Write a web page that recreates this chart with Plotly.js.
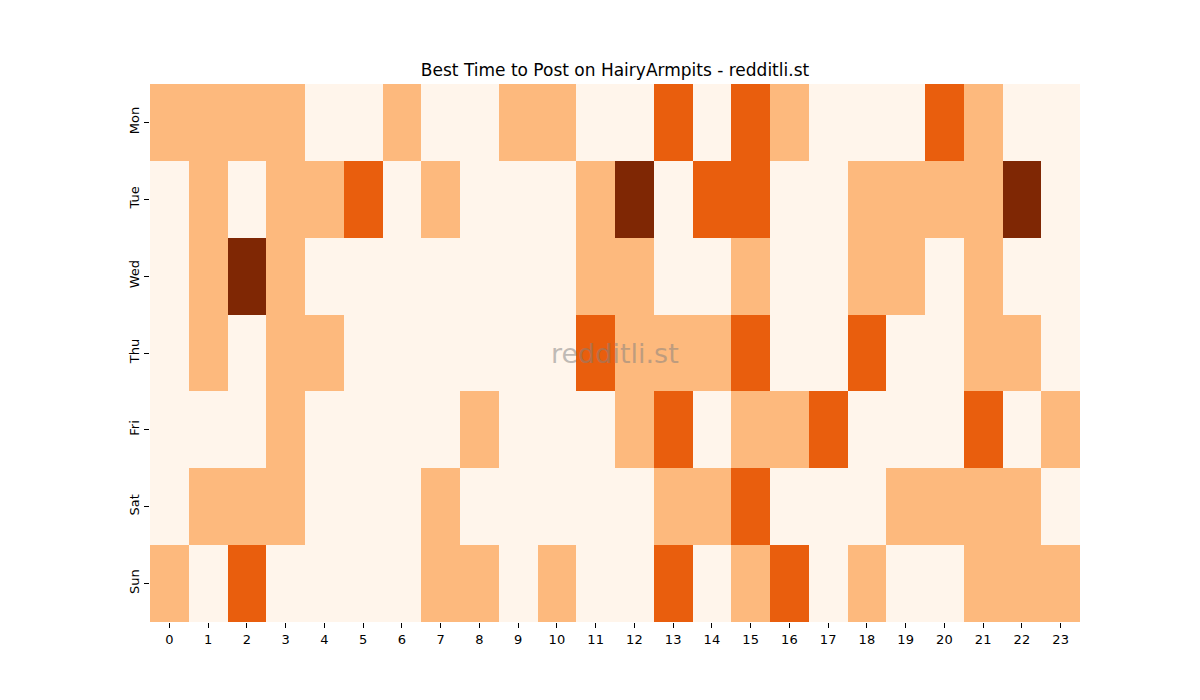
<!DOCTYPE html>
<html>
<head>
<meta charset="utf-8">
<script src="https://cdn.plot.ly/plotly-3.0.1.min.js"></script>
<style>
  html, body { margin: 0; padding: 0; background: #fff; }
  #chart { width: 1200px; height: 700px; }
</style>
</head>
<body>
<div id="chart"></div>
<script>
// hours along x, weekdays along y
const hours = [0,1,2,3,4,5,6,7,8,9,10,11,12,13,14,15,16,17,18,19,20,21,22,23];
const days  = ['Mon', 'Tue', 'Wed', 'Thu', 'Fri', 'Sat', 'Sun'];

// activity level per hour (0..3)
const mon = [1,1,1,1,0,0,1,0,0,1,1,0,0,2,0,2,1,0,0,0,2,1,0,0];
const tue = [0,1,0,1,1,2,0,1,0,0,0,1,3,0,2,2,0,0,1,1,1,1,3,0];
const wed = [0,1,3,1,0,0,0,0,0,0,0,1,1,0,0,1,0,0,1,1,0,1,0,0];
const thu = [0,1,0,1,1,0,0,0,0,0,0,2,1,1,1,2,0,0,2,0,0,1,1,0];
const fri = [0,0,0,1,0,0,0,0,1,0,0,0,1,2,0,1,1,2,0,0,0,2,0,1];
const sat = [0,1,1,1,0,0,0,1,0,0,0,0,0,1,1,2,0,0,0,1,1,1,1,0];
const sun = [1,0,2,0,0,0,0,1,1,0,1,0,0,2,0,1,2,0,1,0,0,1,1,1];

const levels = [mon, tue, wed, thu, fri, sat, sun];

// matplotlib "Oranges" sampled at 4 steps
const ORANGES = [
  [0,    '#fff5eb'],
  [0.17, '#fff5eb'],
  [0.17, '#fdb97d'],
  [0.5,  '#fdb97d'],
  [0.5,  '#e95e0d'],
  [0.83, '#e95e0d'],
  [0.83, '#7f2704'],
  [1,    '#7f2704'],
];

const trace = {
  type: 'heatmap',
  x: hours,
  y: days,
  z: levels,
  zmin: 0,
  zmax: 3,
  colorscale: ORANGES,
  showscale: false,
  hoverinfo: 'x+y+z',
};

const layout = {
  width: 1200,
  height: 700,
  paper_bgcolor: '#ffffff',
  plot_bgcolor: '#ffffff',
  font: { family: "'DejaVu Sans', sans-serif", color: '#000', size: 13 },
  margin: { t: 84, r: 120, b: 78, l: 150 },
  title: {
    text: 'Best Time to Post on HairyArmpits - redditli.st',
    font: { size: 17, color: '#000' },
    x: 0.5,
    xref: 'paper',
    y: 1 - 70 / 700,
    yanchor: 'middle',
  },
  xaxis: {
    type: 'linear',
    tickmode: 'array',
    tickvals: hours,
    ticktext: hours.map(String),
    ticks: 'outside',
    ticklen: 5,
    tickcolor: '#000',
    showgrid: false,
    zeroline: false,
    showline: false,
    range: [-0.5, 23.5],
    tickfont: { size: 13 },
  },
  yaxis: {
    type: 'category',
    autorange: 'reversed',
    ticks: 'outside',
    ticklen: 5,
    tickcolor: '#000',
    tickangle: -90,
    showgrid: false,
    zeroline: false,
    showline: false,
    tickfont: { size: 13 },
  },
  annotations: [{
    text: 'redditli.st',
    xref: 'paper', yref: 'paper',
    x: 0.5, y: 0.5,
    showarrow: false,
    font: { size: 27, color: 'rgba(128,128,128,0.5)' },
  }],
};

Plotly.newPlot('chart', [trace], layout, { displayModeBar: false, staticPlot: true });
</script>
</body>
</html>
